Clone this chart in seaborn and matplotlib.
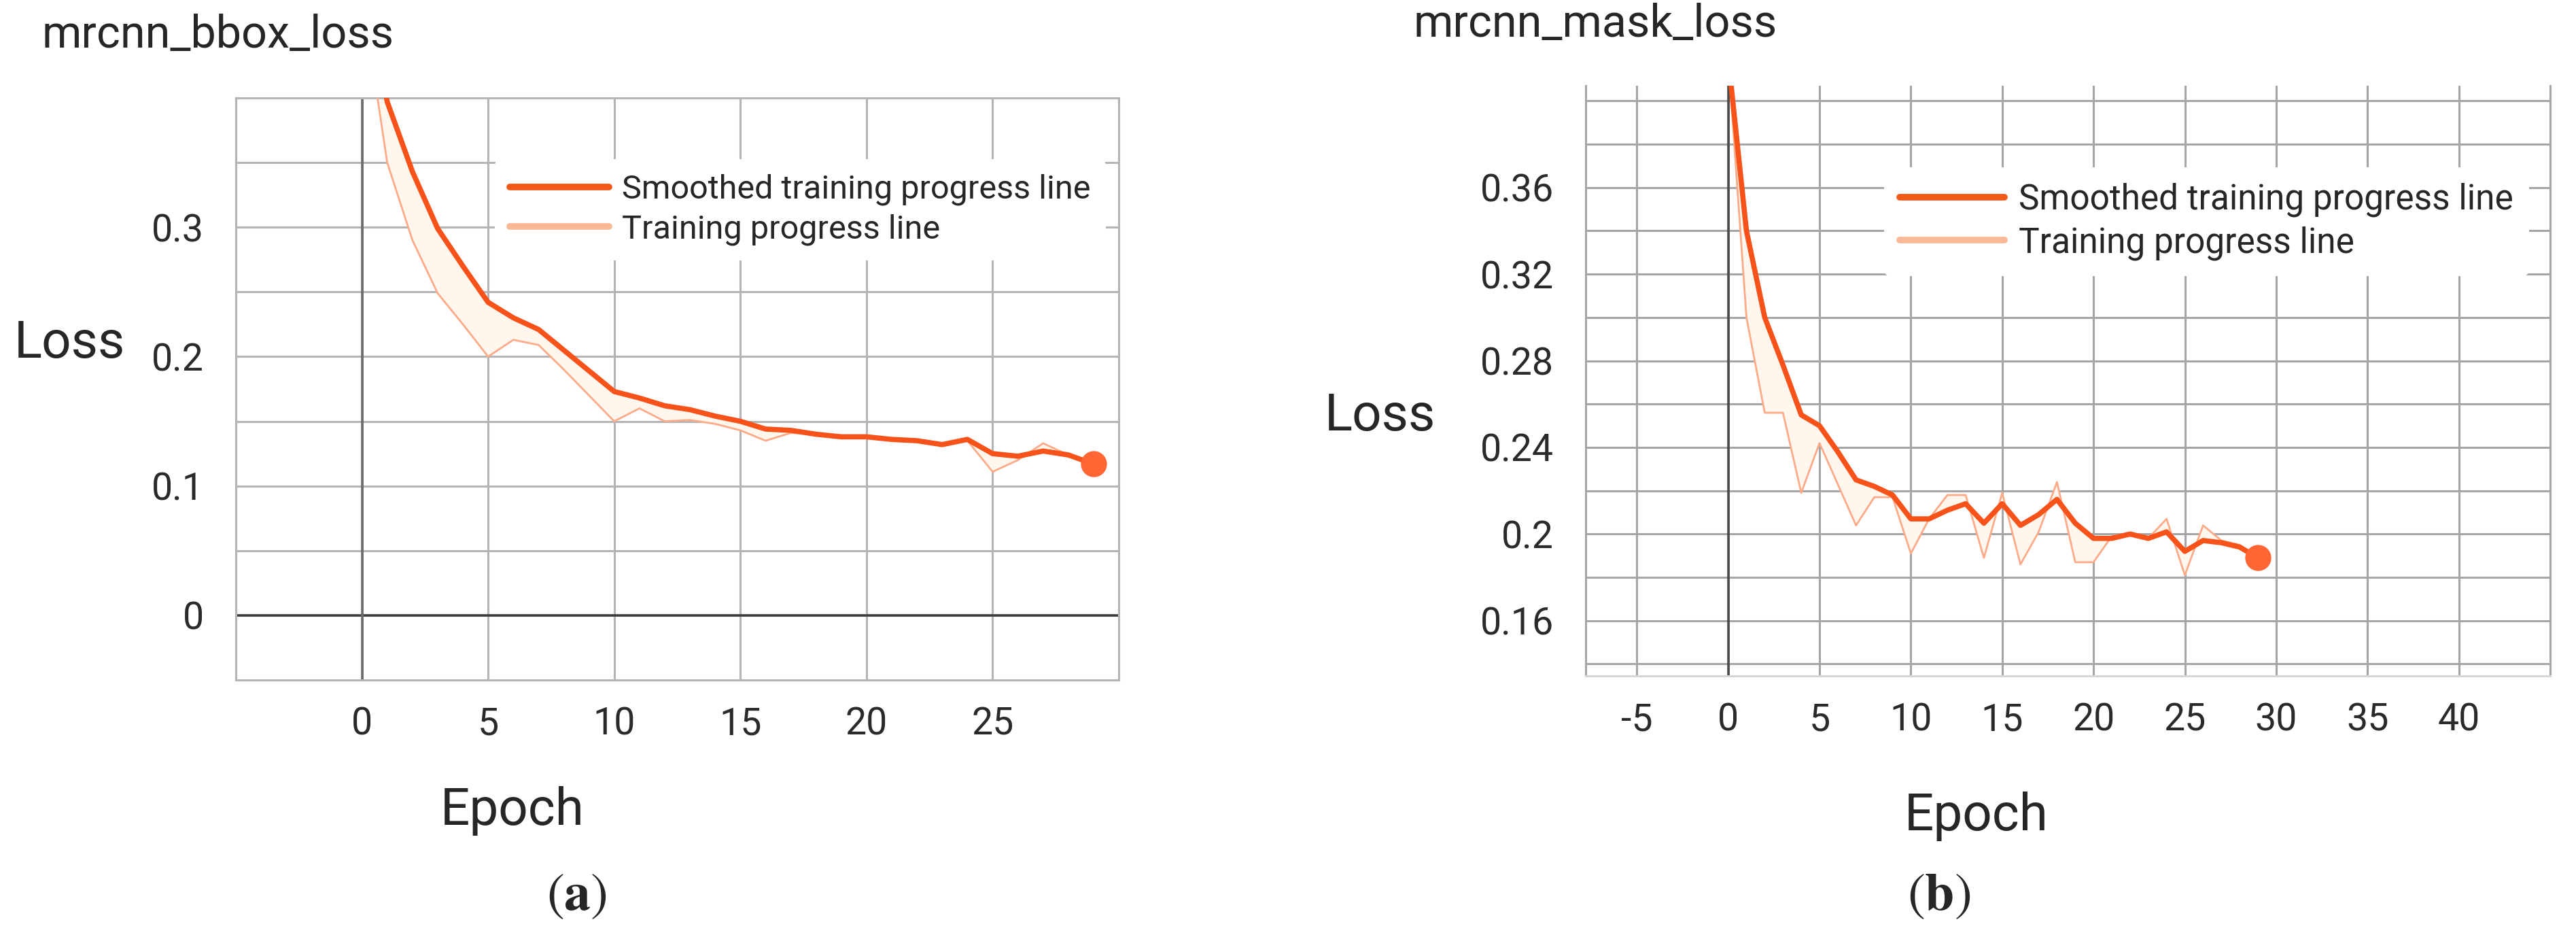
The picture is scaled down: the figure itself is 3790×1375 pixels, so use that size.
import numpy as np
import matplotlib
matplotlib.use("Agg")
import matplotlib.pyplot as plt
from matplotlib.lines import Line2D
from matplotlib.ticker import FixedLocator, FixedFormatter
import seaborn as sns

# ---- data ----
epochs = list(range(30))

bbox_smoothed = [0.500, 0.397, 0.343, 0.299, 0.270, 0.242, 0.230, 0.221, 0.205, 0.189,
                 0.173, 0.168, 0.162, 0.159, 0.154, 0.150, 0.144, 0.143, 0.140, 0.138,
                 0.138, 0.136, 0.135, 0.132, 0.136, 0.125, 0.123, 0.127, 0.124, 0.117]
bbox_raw = [0.480, 0.350, 0.290, 0.249, 0.225, 0.200, 0.213, 0.209, 0.190, 0.170,
            0.150, 0.160, 0.150, 0.151, 0.148, 0.143, 0.135, 0.141, 0.140, 0.137,
            0.138, 0.135, 0.134, 0.131, 0.135, 0.111, 0.120, 0.133, 0.124, 0.117]

mask_smoothed = [0.420, 0.340, 0.300, 0.278, 0.255, 0.250, 0.238, 0.225, 0.222, 0.218,
                 0.207, 0.207, 0.211, 0.214, 0.205, 0.214, 0.204, 0.209, 0.216, 0.205,
                 0.198, 0.198, 0.200, 0.198, 0.201, 0.192, 0.197, 0.196, 0.194, 0.189]
mask_raw = [0.420, 0.300, 0.256, 0.256, 0.219, 0.242, 0.223, 0.204, 0.217, 0.217,
            0.191, 0.207, 0.218, 0.218, 0.189, 0.219, 0.186, 0.201, 0.224, 0.187,
            0.187, 0.199, 0.200, 0.198, 0.207, 0.181, 0.204, 0.197, 0.195, 0.189]

bbox_xticks = [-5, 0, 5, 10, 15, 20, 25, 30]
bbox_xlabels = ["", "0", "5", "10", "15", "20", "25", ""]
bbox_yticks = [-0.05, 0.0, 0.05, 0.1, 0.15, 0.2, 0.25, 0.3, 0.35, 0.4]
bbox_ylabels = ["", "0", "", "0.1", "", "0.2", "", "0.3", "", ""]

mask_xticks = [-5, 0, 5, 10, 15, 20, 25, 30, 35, 40, 45]
mask_xlabels = ["-5", "0", "5", "10", "15", "20", "25", "30", "35", "40", ""]
mask_yticks = [0.14, 0.16, 0.18, 0.20, 0.22, 0.24, 0.26, 0.28, 0.30, 0.32, 0.34, 0.36, 0.38, 0.40]
mask_ylabels = ["", "0.16", "", "0.2", "", "0.24", "", "0.28", "", "0.32", "", "0.36", "", ""]

legend_labels = ["Smoothed training progress line", "Training progress line"]

# ---- style ----
sns.set_theme(style="white")
plt.rcParams['font.family'] = ['Roboto', 'DejaVu Sans']
plt.rcParams['mathtext.fontset'] = 'stix'

SMOOTH = "#F6521A"
RAW = "#FCAA88"
DOT = "#FF6633"

W, H = 3790, 1375
fig = plt.figure(figsize=(W / 100, H / 100), dpi=100)
fig.patch.set_facecolor("white")


def box(x0, x1, ytop, ybot):
    return [x0 / W, (H - ybot) / H, (x1 - x0) / W, (ybot - ytop) / H]


ax_a = fig.add_axes(box(347, 1646, 144, 1000))
ax_b = fig.add_axes(box(2333, 3752, 126, 994))


def draw_panel(ax, smoothed, raw, xlim, ylim, xticks, xlabels, yticks, ylabels, grid):
    ax.fill_between(epochs, raw, smoothed, color="#FFF7EE", lw=0, zorder=2)
    sns.lineplot(x=epochs, y=raw, ax=ax, color=RAW, lw=2.0, zorder=3)
    sns.lineplot(x=epochs, y=smoothed, ax=ax, color=SMOOTH, lw=5.5, zorder=4)
    ax.scatter([epochs[-1]], [smoothed[-1]], s=760, color=DOT, zorder=5, lw=0)
    ax.set_xlim(*xlim)
    ax.set_ylim(*ylim)
    ax.xaxis.set_major_locator(FixedLocator(xticks))
    ax.xaxis.set_major_formatter(FixedFormatter(xlabels))
    ax.yaxis.set_major_locator(FixedLocator(yticks))
    ax.yaxis.set_major_formatter(FixedFormatter(ylabels))
    ax.grid(True, color=grid, lw=2.2, zorder=0)
    ax.set_axisbelow(True)
    ax.tick_params(axis="both", which="major", direction="out", length=14, width=2,
                   color=grid, labelsize=40, labelcolor="#2a2a2a")
    ax.tick_params(axis="x", pad=14)
    ax.tick_params(axis="y", pad=20)
    for s in ax.spines.values():
        s.set_color(grid)
        s.set_linewidth(2.2)
    ax.set_facecolor("white")


draw_panel(ax_a, bbox_smoothed, bbox_raw, (-5, 30), (-0.05, 0.4),
           bbox_xticks, bbox_xlabels, bbox_yticks, bbox_ylabels, "#b4b4b4")
ax_a.axhline(0, color="#3c3c3c", lw=2.6, zorder=1)
ax_a.axvline(0, color="#6a6a6a", lw=2.6, zorder=1)

draw_panel(ax_b, mask_smoothed, mask_raw, (-7.8, 45), (0.1345, 0.407),
           mask_xticks, mask_xlabels, mask_yticks, mask_ylabels, "#a6a6a6")
ax_b.spines["top"].set_visible(False)
ax_b.spines["bottom"].set_color("#d6d6d6")
ax_b.axvline(0, color="#4a4a4a", lw=2.6, zorder=1)

# legends
handles = [Line2D([], [], color="#F05A16", lw=7), Line2D([], [], color="#FBB896", lw=7)]
for ax, anchor, fs in ((ax_a, (0.985, 0.895), 35), (ax_b, (0.978, 0.862), 37)):
    leg = ax.legend(handles, legend_labels, loc="upper right", bbox_to_anchor=anchor,
                    fontsize=fs, frameon=True, facecolor="white", edgecolor="none",
                    framealpha=1, handlelength=3.0, handletextpad=0.4,
                    labelspacing=0.25, borderpad=0.45, borderaxespad=0)
    leg.set_zorder(6)

# axis labels
ax_a.set_ylabel("Loss", fontsize=55, rotation=0, ha="center", va="center")
ax_a.yaxis.set_label_coords(-0.188, 0.578)
ax_a.set_xlabel("Epoch", fontsize=55, ha="center", va="center")
ax_a.xaxis.set_label_coords(0.313, -0.225)

ax_b.set_ylabel("Loss", fontsize=55, rotation=0, ha="center", va="center")
ax_b.yaxis.set_label_coords(-0.2135, 0.44)
ax_b.set_xlabel("Epoch", fontsize=55, ha="center", va="center")
ax_b.xaxis.set_label_coords(0.405, -0.238)

# titles and captions
fig.text(62 / W, 1 - 52 / H, "mrcnn_bbox_loss", fontsize=48, ha="left", va="center")
fig.text(2080 / W, 1 - 36 / H, "mrcnn_mask_loss", fontsize=48, ha="left", va="center")
fig.text(848 / W, 1 - 1317 / H, r"$(\mathbf{a})$", fontsize=56, ha="center", va="center")
fig.text(2853 / W, 1 - 1317 / H, r"$(\mathbf{b})$", fontsize=56, ha="center", va="center")

plt.savefig("out.png", dpi=100, facecolor="white")
